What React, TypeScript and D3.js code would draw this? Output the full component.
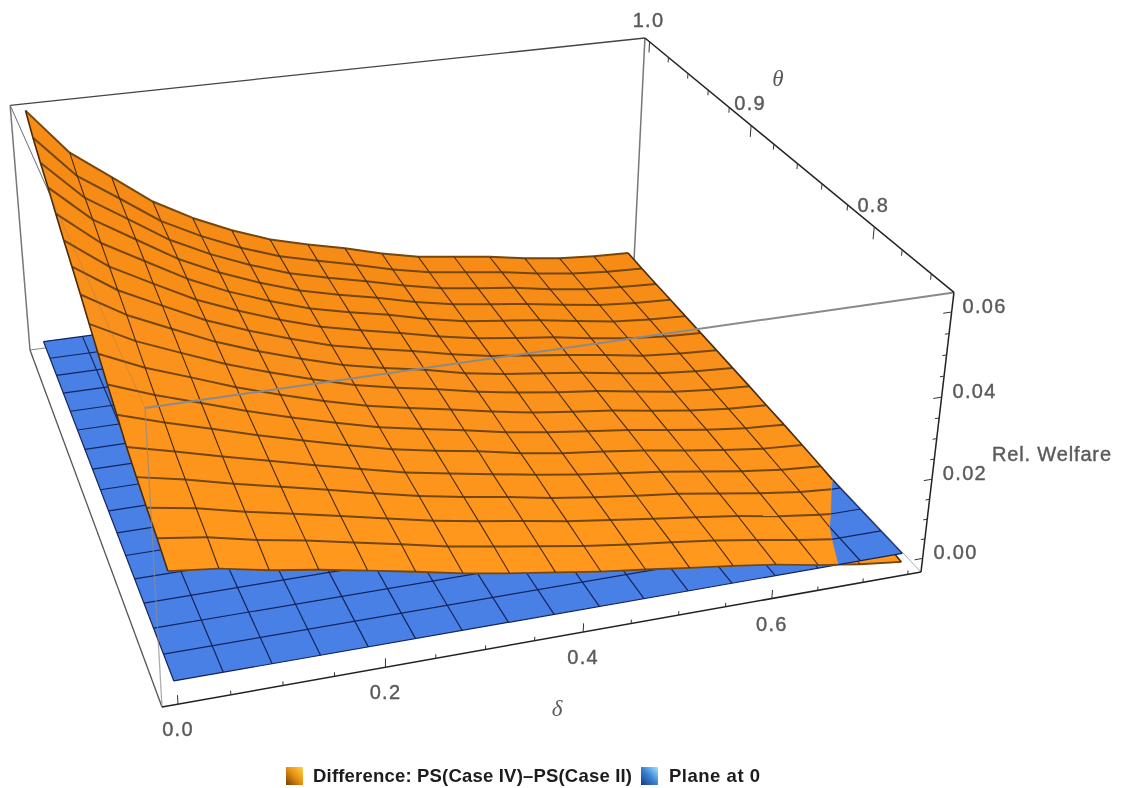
import React from 'react'
import * as d3 from 'd3'

const width = 1139
const height = 788

// axis ticks
const deltaMajor = [0, 0.2, 0.4, 0.6]
const deltaMinor = [0.05, 0.1, 0.15, 0.25, 0.3, 0.35, 0.45, 0.5, 0.55, 0.65, 0.7, 0.75]
const thetaMajor = [0.8, 0.9, 1.0]
const thetaMinor = [0.76, 0.78, 0.82, 0.84, 0.86, 0.88, 0.92, 0.94, 0.96, 0.98]
const zMajor = [0, 0.02, 0.04, 0.06]
const zMinor = [0.005, 0.01, 0.015, 0.025, 0.03, 0.035, 0.045, 0.05, 0.055]

// plot box and mesh
const deltaBox = [-0.015, 0.765]
const thetaBox = [0.745, 1.005]
const zBox = [-0.0035, 0.0645]
const deltaRange = [0, 0.75]
const thetaRange = [0.75, 1]

// Difference surface, one row per mesh line of theta (front to back)
const surfaceRows = [
  [0.026, 0.0247, 0.0224, 0.0206, 0.0185, 0.0163, 0.014, 0.0121, 0.0104, 0.0087, 0.0073, 0.0058, 0.0044, 0.0028, 0.0008, -0.0009, -0.0022],
  [0.0277, 0.0261, 0.0236, 0.0216, 0.0193, 0.017, 0.0146, 0.0127, 0.0109, 0.0091, 0.0076, 0.0063, 0.0049, 0.0032, 0.0013, -0.0003, -0.0014],
  [0.0291, 0.0272, 0.0246, 0.0223, 0.0199, 0.0175, 0.0151, 0.0132, 0.0114, 0.0095, 0.008, 0.0065, 0.0051, 0.0036, 0.0017, 0.0003, -0.0008],
  [0.0308, 0.0285, 0.0257, 0.0232, 0.0207, 0.0181, 0.0156, 0.0136, 0.0118, 0.0098, 0.0082, 0.0068, 0.0055, 0.0038, 0.0021, 0.0007, -0.0002],
  [0.0326, 0.0298, 0.0269, 0.0241, 0.0213, 0.0186, 0.016, 0.014, 0.0121, 0.0102, 0.0085, 0.0071, 0.0058, 0.0041, 0.0024, 0.0011, 0.0003],
  [0.0351, 0.0316, 0.0284, 0.0251, 0.0221, 0.0192, 0.0165, 0.0144, 0.0126, 0.0104, 0.0087, 0.0074, 0.006, 0.0043, 0.0027, 0.0014, 0.0007],
  [0.0374, 0.0332, 0.0296, 0.026, 0.0227, 0.0197, 0.0169, 0.0148, 0.0128, 0.0106, 0.0089, 0.0075, 0.0062, 0.0045, 0.0029, 0.0017, 0.001],
  [0.04, 0.035, 0.031, 0.0269, 0.0234, 0.0202, 0.0173, 0.0151, 0.0131, 0.0109, 0.009, 0.0076, 0.0063, 0.0046, 0.003, 0.0019, 0.0012],
  [0.0426, 0.0368, 0.0323, 0.0279, 0.0242, 0.0208, 0.0177, 0.0154, 0.0134, 0.0111, 0.0093, 0.0078, 0.0065, 0.0048, 0.0031, 0.0021, 0.0015],
  [0.0453, 0.0387, 0.0337, 0.0288, 0.0248, 0.0213, 0.0181, 0.0157, 0.0137, 0.0112, 0.0094, 0.008, 0.0066, 0.0049, 0.0033, 0.0023, 0.0017],
  [0.0478, 0.0404, 0.035, 0.0297, 0.0255, 0.0218, 0.0185, 0.0161, 0.0139, 0.0115, 0.0095, 0.0081, 0.0067, 0.0051, 0.0034, 0.0025, 0.0019],
  [0.0501, 0.042, 0.0362, 0.0305, 0.0261, 0.0222, 0.0188, 0.0164, 0.0141, 0.0116, 0.0096, 0.0082, 0.0069, 0.0051, 0.0036, 0.0026, 0.0021],
  [0.0527, 0.0438, 0.0377, 0.0316, 0.0267, 0.0227, 0.0192, 0.0167, 0.0145, 0.0118, 0.0097, 0.0084, 0.007, 0.0053, 0.0037, 0.0028, 0.0023],
  [0.0554, 0.0457, 0.0391, 0.0325, 0.0274, 0.0232, 0.0196, 0.017, 0.0147, 0.012, 0.0099, 0.0085, 0.0071, 0.0054, 0.0039, 0.003, 0.0025],
  [0.0578, 0.0473, 0.0404, 0.0334, 0.0281, 0.0237, 0.02, 0.0173, 0.0149, 0.0122, 0.01, 0.0086, 0.0073, 0.0054, 0.004, 0.0032, 0.0027],
  [0.0605, 0.0491, 0.0418, 0.0343, 0.0288, 0.0242, 0.0204, 0.0177, 0.0152, 0.0124, 0.0102, 0.0088, 0.0074, 0.0056, 0.0042, 0.0033, 0.0029],
  [0.0639, 0.0515, 0.0436, 0.0356, 0.0297, 0.0249, 0.0209, 0.0181, 0.0156, 0.0127, 0.0104, 0.009, 0.0076, 0.0058, 0.0044, 0.0036, 0.0032],
]

const orangeBack = '#f58a16'
const orangeFront = '#ff981f'
const blue = '#4a80e6'
const orangeRow = '#74470f'
const orangeCol = '#4a2c0c'
const blueMesh = '#12245c'
const labelColor = '#5a5a5a'
const labelFont = '"Liberation Sans", Arial, sans-serif'

type P3 = [number, number, number]

// the camera: corners of the box on screen and the vanishing points of the three axes
const cornerA = [162, 707]
const cornerB = [921, 572]
const cornerC = [30, 350]
const cornerE = [145, 408]
const vanishU = [8774, -797]
const vanishV = [-405, -826]
const vanishW = [405, 4960]

const scaleOf = (corner: number[], vp: number[], axis: number) => {
  const k = (cornerA[axis] - vp[axis]) / (corner[axis] - vp[axis])
  return [k * corner[0] - cornerA[0], k * corner[1] - cornerA[1], k - 1]
}
const Vu = scaleOf(cornerB, vanishU, 0)
const Vv = scaleOf(cornerC, vanishV, 0)
const Vw = scaleOf(cornerE, vanishW, 1)

const uScale = d3.scaleLinear().domain(deltaBox).range([0, 1])
const vScale = d3.scaleLinear().domain(thetaBox).range([0, 1])
const wScale = d3.scaleLinear().domain(zBox).range([0, 1])

const project = ([d, t, z]: P3): [number, number] => {
  const u = uScale(d)
  const v = vScale(t)
  const w = wScale(z)
  const h = 1 + u * Vu[2] + v * Vv[2] + w * Vw[2]
  return [
    (cornerA[0] + u * Vu[0] + v * Vv[0] + w * Vw[0]) / h,
    (cornerA[1] + u * Vu[1] + v * Vv[1] + w * Vw[1]) / h,
  ]
}

const line3 = d3.line<P3>().x((p) => project(p)[0]).y((p) => project(p)[1])

const cells = surfaceRows.length - 1
const deltaAt = d3.scaleLinear().domain([0, cells]).range(deltaRange)
const thetaAt = d3.scaleLinear().domain([0, cells]).range(thetaRange)
const node = (i: number, j: number): P3 => [deltaAt(i), thetaAt(j), surfaceRows[j][i]]

// keep the part of a polygon on one side of the plane z = 0
const clipZ = (pts: P3[], sign: number, closed: boolean) => {
  const out: P3[] = []
  const n = pts.length
  for (let k = 0; k < (closed ? n : n - 1); k++) {
    const a = pts[k]
    const b = pts[(k + 1) % n]
    const inA = a[2] * sign >= 0
    const inB = b[2] * sign >= 0
    if (inA) out.push(a)
    if (inA !== inB) {
      const s = a[2] / (a[2] - b[2])
      out.push([a[0] + (b[0] - a[0]) * s, a[1] + (b[1] - a[1]) * s, 0])
    }
    if (!closed && k === n - 2 && inB) out.push(b)
  }
  return out
}

const shade = d3.scaleLinear<string>().domain([cells, 0]).range([orangeBack, orangeFront])

const Surface = ({sign}: {sign: number}) => {
  const idx = d3.range(cells + 1)
  const quads = d3.range(cells).flatMap((j) => d3.range(cells).map((i) => ({i, j})))
  const segments = (pts: P3[]) =>
    d3.range(pts.length - 1).map((k) => clipZ([pts[k], pts[k + 1]], sign, false)).filter((s) => s.length === 2)
  return (
    <g>
      {quads.map(({i, j}) => {
        const poly = clipZ([node(i, j), node(i + 1, j), node(i + 1, j + 1), node(i, j + 1)], sign, true)
        if (poly.length < 3) return null
        const d = line3(poly) + 'Z'
        return <path key={`${i}-${j}`} d={d} fill={shade(j)} stroke={shade(j)} strokeWidth={0.6}/>
      })}
      {idx.map((j) =>
        segments(idx.map((i) => node(i, j))).map((s, k) => (
          <path key={`r${j}-${k}`} d={line3(s) as string} fill="none"
            stroke={orangeRow} strokeWidth={j === 0 ? 1.8 : 2}/>
        ))
      )}
      {idx.map((i) =>
        segments(idx.map((j) => node(i, j))).map((s, k) => (
          <path key={`c${i}-${k}`} d={line3(s) as string} fill="none"
            stroke={orangeCol} strokeWidth={i === 0 || i === cells ? 1.6 : 1.1}/>
        ))
      )}
    </g>
  )
}

const Plane = () => {
  const [d0, d1] = deltaRange
  const [t0, t1] = thetaRange
  const idx = d3.range(cells + 1)
  const outline: P3[] = [[d0, t0, 0], [d1, t0, 0], [d1, t1, 0], [d0, t1, 0]]
  return (
    <g>
      <path d={line3(outline) + 'Z'} fill={blue}/>
      {idx.map((j) => (
        <path key={`r${j}`} d={line3([[d0, thetaAt(j), 0], [d1, thetaAt(j), 0]]) as string} stroke={blueMesh} strokeWidth={1.2}/>
      ))}
      {idx.map((i) => (
        <path key={`c${i}`} d={line3([[deltaAt(i), t0, 0], [deltaAt(i), t1, 0]]) as string} stroke={blueMesh} strokeWidth={1.2}/>
      ))}
    </g>
  )
}

const Edge = ({a, b, color, w, opacity = 1}: {a: P3, b: P3, color: string, w: number, opacity?: number}) => (
  <path d={line3([a, b]) as string} stroke={color} strokeWidth={w} strokeOpacity={opacity} fill="none"/>
)

const TickLabel = ({at, dx, dy, text}: {at: [number, number], dx: number, dy: number, text: string}) => (
  <text x={at[0] + dx} y={at[1] + dy} textAnchor="middle" dominantBaseline="central"
    fontFamily={labelFont} fontSize={20} letterSpacing={1.3} fill={labelColor} stroke={labelColor} strokeWidth={0.4}>
    {text}
  </text>
)

const App = () => {
  const [dMin, dMax] = deltaBox
  const [tMin, tMax] = thetaBox
  const [zMin, zMax] = zBox
  const f1 = d3.format('.1f')
  const f2 = d3.format('.2f')
  return (
    <svg width={width} height={height} style={{position: 'absolute', left: 0, top: 0, background: '#fff'}}>
      <defs>
        <linearGradient id="swatchOrange" x1="0" y1="1" x2="1" y2="0">
          <stop offset="0" stopColor="#6e4208"/>
          <stop offset="0.5" stopColor="#e88e10"/>
          <stop offset="1" stopColor="#ffd34a"/>
        </linearGradient>
        <linearGradient id="swatchBlue" x1="0" y1="1" x2="1" y2="0">
          <stop offset="0" stopColor="#1a3a78"/>
          <stop offset="0.5" stopColor="#3a82d4"/>
          <stop offset="1" stopColor="#a6e4ff"/>
        </linearGradient>
        <filter id="soft" filterUnits="userSpaceOnUse" x={0} y={0} width={width} height={height}>
          <feGaussianBlur stdDeviation={0.4}/>
        </filter>
      </defs>

      <g filter="url(#soft)">
        {/* back of the box */}
        <Edge a={[dMin, tMax, zMin]} b={[dMin, tMax, zMax]} color="#777" w={1.5}/>
        <Edge a={[dMax, tMax, zMin]} b={[dMax, tMax, zMax]} color="#777" w={1.5}/>
        <Edge a={[dMin, tMax, zMin]} b={[dMax, tMax, zMin]} color="#888" w={1.2}/>
        <Edge a={[dMax, tMax, zMin]} b={[dMax, tMin, zMin]} color="#aaa" w={1}/>
        <Edge a={[dMin, tMax, zMin]} b={[dMin, tMin, zMin]} color="#555" w={1.3}/>
        <Edge a={[dMin, tMax, zMax]} b={[dMax, tMax, zMax]} color="#444" w={1.3}/>
        <Edge a={[dMin, tMax, zMax]} b={[dMin, tMin, zMax]} color="#777" w={1}/>

        <Surface sign={-1}/>
        <Plane/>
        <Surface sign={1}/>

        {/* front of the box, seen through the surface */}
        <Edge a={[dMin, tMin, zMax]} b={[dMax, tMin, zMax]} color="#8a8a8a" w={2}/>
        <Edge a={[dMin, tMin, zMin]} b={[dMin, tMin, zMax]} color="#8a8a8a" w={1.3} opacity={0.7}/>
        <Edge a={[dMin, tMax, zMax]} b={[dMin, tMin, zMax]} color="#777" w={1} opacity={0.3}/>

        {/* axes */}
        <Edge a={[dMin, tMin, zMin]} b={[dMax, tMin, zMin]} color="#222" w={1.5}/>
        <Edge a={[dMax, tMin, zMin]} b={[dMax, tMin, zMax]} color="#222" w={1.5}/>
        <Edge a={[dMax, tMin, zMax]} b={[dMax, tMax, zMax]} color="#222" w={1.5}/>

        {deltaMajor.concat(deltaMinor).map((v) => (
          <Edge key={`dt${v}`} a={[v, tMin, zMin]} b={[v, tMin, zMin + (deltaMajor.includes(v) ? 0.0022 : 0.001)]} color="#333" w={1}/>
        ))}
        {thetaMajor.concat(thetaMinor).map((v) => (
          <Edge key={`tt${v}`} a={[dMax, v, zMax]} b={[dMax, v, zMax - (thetaMajor.includes(v) ? 0.003 : 0.0014)]} color="#333" w={1}/>
        ))}
        {zMajor.concat(zMinor).map((v) => (
          <Edge key={`zt${v}`} a={[dMax, tMin, v]} b={[dMax - (zMajor.includes(v) ? 0.009 : 0.0045), tMin, v]} color="#333" w={1}/>
        ))}

        {deltaMajor.map((v) => (
          <TickLabel key={`dl${v}`} at={project([v, tMin, zMin])} dx={0} dy={25} text={f1(v)}/>
        ))}
        {thetaMajor.map((v) => (
          <TickLabel key={`tl${v}`} at={project([dMax, v, zMax])} dx={-1} dy={-22} text={f1(v)}/>
        ))}
        {zMajor.map((v) => (
          <TickLabel key={`zl${v}`} at={project([dMax, tMin, v])} dx={33} dy={-6} text={f2(v)}/>
        ))}

        <text x={557} y={708} textAnchor="middle" dominantBaseline="central" fontFamily='"Liberation Serif", serif' fontStyle="italic" fontSize={23} fill={labelColor}>δ</text>
        <text x={778} y={78} textAnchor="middle" dominantBaseline="central" fontFamily='"Liberation Serif", serif' fontStyle="italic" fontSize={23} fill={labelColor}>θ</text>
        <text x={992} y={454} dominantBaseline="central" fontFamily={labelFont} fontSize={20} textLength={119} lengthAdjust="spacing" fill={labelColor} stroke={labelColor} strokeWidth={0.4}>Rel. Welfare</text>

        {/* legend */}
        <rect x={286} y={767} width={17} height={18} fill="url(#swatchOrange)"/>
        <text x={313} y={775} dominantBaseline="central" fontFamily={labelFont} fontWeight="bold" fontSize={18.5} textLength={319} lengthAdjust="spacing" fill="#1c1c1c">Difference: PS(Case IV)–PS(Case II)</text>
        <rect x={641} y={767} width={17} height={18} fill="url(#swatchBlue)"/>
        <text x={669} y={775} dominantBaseline="central" fontFamily={labelFont} fontWeight="bold" fontSize={18.5} textLength={91} lengthAdjust="spacing" fill="#1c1c1c">Plane at 0</text>
      </g>
    </svg>
  )
}

export default App
